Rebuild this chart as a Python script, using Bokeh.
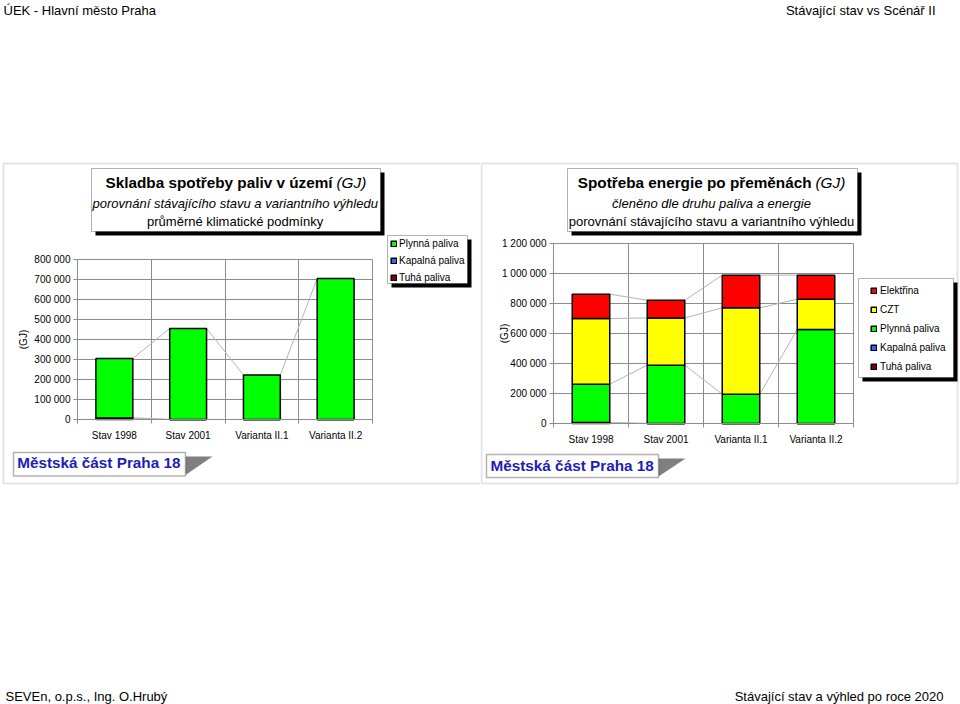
import math
from bokeh.plotting import figure
from bokeh.layouts import row
from bokeh.models import (Range1d, FixedTicker, Label, BoxAnnotation, PolyAnnotation,
                          Legend, LegendItem, ColumnDataSource, LinearAxis, Grid)
from bokeh.embed import file_html
from bokeh.resources import INLINE

FONT = "Liberation Sans"
GRID = "#8c8c8c"
SERIES_LINE = "#b4b4b4"
BLUE_TXT = "#1e1eb4"

# ---------------- data ----------------
categories = ["Stav 1998", "Stav 2001", "Varianta II.1", "Varianta II.2"]

# left chart: Skladba spotřeby paliv v území (GJ)
fuel_tuha = [8000, 0, 0, 0]
fuel_kapalna = [0, 0, 0, 0]
fuel_plynna = [297000, 455000, 222000, 705000]
fuel_ticks = [0, 100000, 200000, 300000, 400000, 500000, 600000, 700000, 800000]

# right chart: Spotřeba energie po přeměnách (GJ)
en_tuha = [6000, 0, 0, 0]
en_kapalna = [0, 0, 0, 0]
en_plynna = [256000, 389000, 195000, 627000]
en_czt = [438000, 315000, 576000, 202000]
en_elektrina = [162000, 118000, 218000, 160000]
en_ticks = [0, 200000, 400000, 600000, 800000, 1000000, 1200000]

series_colors = {
    "Tuhá paliva": "#800000",
    "Kapalná paliva": "#3366ff",
    "Plynná paliva": "#00ff00",
    "CZT": "#ffff00",
    "Elektřina": "#ff0000",
}

W, H = 480, 704
xs = [i + 0.5 for i in range(len(categories))]
BAR_W = 0.5
RN = dict(x_range_name="cx", y_range_name="cy")


def fmt(v):
    return f"{v:,}".replace(",", " ")


def build(x0, fl, fr, ft, fb, ymax, yticks):
    """Figure whose frame is the whole panel; decorations use page pixels,
    the chart uses the extra ranges cx / cy that put its plot area at (fl..fr, ft..fb)."""
    ncat = len(categories)
    cx = lambda px: (px - fl) / (fr - fl) * ncat
    cy = lambda py: (fb - py) / (fb - ft) * ymax
    p = figure(width=W, height=H, x_range=Range1d(x0, x0 + W), y_range=Range1d(H, 0),
               x_axis_type=None, y_axis_type=None, title=None,
               toolbar_location=None, output_backend="svg", min_border=0,
               outline_line_color=None, background_fill_color="white", border_fill_color="white")
    p.extra_x_ranges = {"cx": Range1d(cx(x0), cx(x0 + W))}
    p.extra_y_ranges = {"cy": Range1d(cy(H), cy(0))}

    gx = Grid(dimension=0, ticker=FixedTicker(ticks=list(range(ncat + 1))),
              bounds=(-0.001, ncat + 0.001), grid_line_color=GRID, **RN)
    gy = Grid(dimension=1, ticker=FixedTicker(ticks=yticks),
              bounds=(-1, ymax + 1), grid_line_color=GRID, **RN)
    if "cross_bounds" in Grid.properties():
        gx.cross_bounds = (0, ymax)
        gy.cross_bounds = (0, ncat)
        p.add_layout(gx)
        p.add_layout(gy)
    else:
        p.segment(x0=0, x1=ncat, y0=yticks, y1=yticks, line_color=GRID, level="underlay", **RN)
        p.segment(x0=list(range(ncat + 1)), x1=list(range(ncat + 1)), y0=0, y1=ymax,
                  line_color=GRID, level="underlay", **RN)

    xa = LinearAxis(fixed_location=0, bounds=(0, ncat),
                    ticker=FixedTicker(ticks=xs, minor_ticks=list(range(ncat + 1))), **RN)
    xa.major_label_overrides = {x: c for x, c in zip(xs, categories)}
    xa.major_tick_line_color = None
    xa.major_tick_out = 4
    xa.major_tick_in = 0
    xa.minor_tick_out = 4
    xa.minor_tick_in = 0
    xa.minor_tick_line_color = GRID
    xa.major_label_standoff = 6

    ya = LinearAxis(fixed_location=0, bounds=(0, ymax), ticker=FixedTicker(ticks=yticks), **RN)
    ya.major_label_overrides = {t: fmt(t) for t in yticks}
    ya.major_tick_out = 4
    ya.major_tick_in = 0
    ya.major_tick_line_color = GRID
    ya.minor_tick_line_color = None
    ya.major_label_standoff = 3

    for a in (xa, ya):
        a.axis_line_color = GRID
        a.major_label_text_font = FONT
        a.major_label_text_font_size = "10px"
        a.major_label_text_color = "black"
    p.add_layout(xa, "below")
    p.add_layout(ya, "left")
    return p


def series_lines(p, stacks):
    cum = [0] * len(xs)
    for s in stacks:
        cum = [c + v for c, v in zip(cum, s)]
        p.segment(x0=[x + BAR_W / 2 for x in xs[:-1]], y0=cum[:-1],
                  x1=[x - BAR_W / 2 for x in xs[1:]], y1=cum[1:],
                  line_color=SERIES_LINE, line_width=1, **RN)


def shadow_box(p, l, r, t, b, off=4, lw=1):
    p.add_layout(BoxAnnotation(left=l + off, right=r + off, top=t + off, bottom=b + off,
                               fill_color="black", fill_alpha=1, line_color=None))
    p.add_layout(BoxAnnotation(left=l, right=r, top=t, bottom=b,
                               fill_color="white", fill_alpha=1, line_color="black", line_width=lw))


def label(p, x, y, text, size, style="normal", align="left", color="black", angle=0):
    # y is the vertical centre of the text line (page pixels)
    p.add_layout(Label(x=x, y=y, text=text, text_font=FONT, text_font_size=size,
                       text_font_style=style, text_align=align, text_baseline="middle",
                       text_color=color, angle=angle))


def tag(p, l, r, t, b, text_x, text_y):
    p.add_layout(PolyAnnotation(xs=[r, r + 27, r], ys=[t + 4, t + 4, b - 1],
                                fill_color="#7f7f7f", fill_alpha=1, line_color=None))
    p.add_layout(BoxAnnotation(left=l, right=r, top=t, bottom=b,
                               fill_color="white", fill_alpha=1, line_color="black", line_width=1.5))
    label(p, text_x, text_y, "Městská část Praha 18", "15.3px", "bold", color=BLUE_TXT)


def make_legend(p, x0, names, rends, glyph_left, top, item_h, spacing, standoff):
    items = [LegendItem(label=n, renderers=[rends[n]]) for n in names]
    n = len(items)
    height = n * item_h + (n - 1) * spacing
    leg = Legend(items=items, location=(glyph_left - x0, H - (top + height)),
                 orientation="vertical", padding=0, margin=0, spacing=spacing,
                 label_height=item_h, glyph_width=7, glyph_height=7, label_standoff=standoff,
                 label_text_font=FONT, label_text_font_size="10px", label_text_color="black",
                 border_line_color=None, background_fill_alpha=0)
    p.add_layout(leg)


# ---------------- left panel ----------------
lp = build(0, 77, 372, 259, 419, 800000, fuel_ticks)
lp.add_layout(BoxAnnotation(left=3, right=481, top=163, bottom=483,
                            fill_alpha=0, line_color="#a6a6a6", line_width=2))

series_lines(lp, [fuel_tuha, fuel_kapalna, fuel_plynna])
lsrc = ColumnDataSource(dict(x=xs, tuha=fuel_tuha, kapalna=fuel_kapalna, plynna=fuel_plynna))
lnames = ["Tuhá paliva", "Kapalná paliva", "Plynná paliva"]
lr = lp.vbar_stack(["tuha", "kapalna", "plynna"], x="x", width=BAR_W, source=lsrc,
                   fill_color=[series_colors[n] for n in lnames], line_color="black", line_width=1.5, **RN)
lrends = dict(zip(lnames, lr))

shadow_box(lp, 91, 380, 168, 231)
label(lp, 332, 182.3, "Skladba spotřeby paliv v území", "15.3px", "bold", "right")
label(lp, 336, 182.3, "(GJ)", "15.3px", "italic")
label(lp, 234.7, 202.5, "porovnání stávajícího stavu a variantního výhledu", "13px", "italic", "center")
label(lp, 234.7, 220.5, "průměrné klimatické podmínky", "13px", "normal", "center")

shadow_box(lp, 387, 467, 235, 283)
make_legend(lp, 0, ["Plynná paliva", "Kapalná paliva", "Tuhá paliva"], lrends, 390, 235, 16, 1, 2)

label(lp, 22.5, 339, "(GJ)", "10px", angle=math.pi / 2, align="center")
tag(lp, 13, 185, 452, 475.5, 16.7, 462)

label(lp, 3, 10, "ÚEK - Hlavní město Praha", "13px")
label(lp, 5, 695.5, "SEVEn, o.p.s., Ing. O.Hrubý", "13px")

# ---------------- right panel ----------------
rp = build(480, 553, 853, 243, 423, 1200000, en_ticks)
rp.add_layout(BoxAnnotation(left=481, right=957, top=163, bottom=483,
                            fill_alpha=0, line_color="#a6a6a6", line_width=2))

series_lines(rp, [en_tuha, en_kapalna, en_plynna, en_czt, en_elektrina])
rsrc = ColumnDataSource(dict(x=xs, tuha=en_tuha, kapalna=en_kapalna, plynna=en_plynna,
                             czt=en_czt, elektrina=en_elektrina))
rnames = ["Tuhá paliva", "Kapalná paliva", "Plynná paliva", "CZT", "Elektřina"]
rr = rp.vbar_stack(["tuha", "kapalna", "plynna", "czt", "elektrina"], x="x", width=BAR_W, source=rsrc,
                   fill_color=[series_colors[n] for n in rnames], line_color="black", line_width=1.5, **RN)
rrends = dict(zip(rnames, rr))

shadow_box(rp, 567, 857, 168, 231)
label(rp, 811, 182.3, "Spotřeba energie po přeměnách", "15.3px", "bold", "right")
label(rp, 815, 182.3, "(GJ)", "15.3px", "italic")
label(rp, 711, 202.5, "členěno dle druhu paliva a energie", "13px", "italic", "center")
label(rp, 711, 220.5, "porovnání stávajícího stavu a variantního výhledu", "13px", "normal", "center")

shadow_box(rp, 858, 953, 278, 377)
make_legend(rp, 480, ["Elektřina", "CZT", "Plynná paliva", "Kapalná paliva", "Tuhá paliva"], rrends,
            870, 282, 16, 3, 3)

label(rp, 503.5, 333, "(GJ)", "10px", angle=math.pi / 2, align="center")
tag(rp, 486, 658, 454, 477, 490, 465)

label(rp, 935, 10, "Stávající stav vs Scénář II", "13px", align="right")
label(rp, 943, 695.5, "Stávající stav a výhled po roce 2020", "13px", align="right")

layout = row(lp, rp)
open("out.html", "w").write(file_html(layout, INLINE))
